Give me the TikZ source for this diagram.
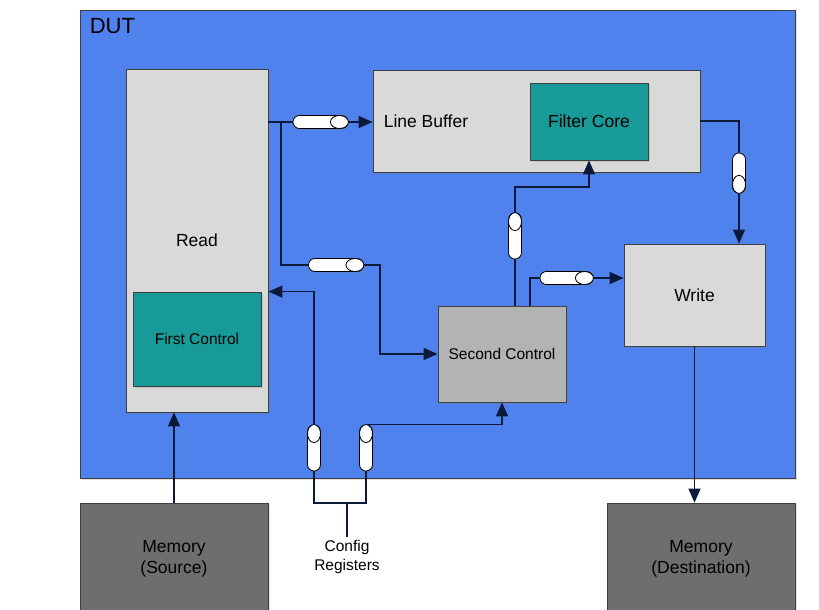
\documentclass[tikz,border=0pt]{standalone}
\usepackage{fontspec}
\setmainfont{Liberation Sans}
\usepackage{tikz}
\usetikzlibrary{positioning,arrows.meta,shadows}
\definecolor{cDut}{HTML}{5082EE}
\definecolor{cBox}{HTML}{D9D9D9}
\definecolor{cCore}{HTML}{179A98}
\definecolor{cCtrl}{HTML}{B3B3B3}
\definecolor{cMem}{HTML}{6E6E6E}
\definecolor{cLine}{HTML}{0B1A3A}

\begin{document}
\begin{tikzpicture}[x=1pt,y=-1pt]
  \tikzset{
    >={Triangle[length=14pt,width=12pt]},
    shd/.style={drop shadow={opacity=0.25,shadow xshift=1.5pt,shadow yshift=-1.5pt}},
    blk/.style={draw=black!75, line width=0.8pt, shd, inner sep=0pt, align=center,
      font=\fontsize{17.5}{21}\selectfont},
    box/.style={blk, fill=cBox},
    core/.style={blk, fill=cCore},
    ctrl/.style={blk, fill=cCtrl, font=\fontsize{15.5}{18}\selectfont},
    mem/.style={blk, fill=cMem},
    flow/.style={draw=cLine, line width=1.2pt},
    pipe/.style={draw=black, line width=0.8pt, fill=white, shd, rounded corners=6.4pt,
      inner sep=0pt, minimum width=55pt, minimum height=13pt},
    vpipe/.style={pipe, minimum width=13pt, minimum height=46pt},
    pipeend/.style={draw=black, line width=0.8pt, fill=white},
    lbl/.style={align=center, font=\fontsize{15.5}{19}\selectfont},
  }
  \useasboundingbox (0,0) rectangle (819,610);

  % enclosing DUT
  \node[blk, fill=cDut, minimum width=715pt, minimum height=468pt] (dut) at (437.5,244) {};
  \node[anchor=north west, inner sep=0pt, font=\fontsize{22}{24}\selectfont]
    (dutlbl) at ([xshift=10pt,yshift=-9pt]dut.north west) {DUT};

  % blocks inside the DUT
  \node[box, minimum width=142pt, minimum height=343pt] (read) at (197,240.5) {Read};
  \node[core, font=\fontsize{15.5}{18}\selectfont, minimum width=128pt, minimum height=94pt]
    (first) at (197,339) {First Control};
  \node[box, minimum width=327pt, minimum height=102pt] (linebuf) at (536.5,121) {};
  \node[anchor=west, inner sep=0pt, font=\fontsize{17.5}{21}\selectfont]
    (buflbl) at ([xshift=11pt]linebuf.west) {Line Buffer};
  \node[core, minimum width=118pt, minimum height=77pt] (filter) at (589,121.5) {Filter Core};
  \node[box, minimum width=141pt, minimum height=102pt] (write) at (694.5,295) {Write};
  \node[ctrl, minimum width=128pt, minimum height=96pt] (second) at (502,354) {Second Control};

  % memories
  \node[mem, minimum width=188pt, minimum height=112pt] (memsrc) at (174,559) {Memory\\(Source)};
  \node[mem, minimum width=188pt, minimum height=112pt] (memdst) at (701,559) {Memory\\(Destination)};
  \node[lbl] (cfg) at (347,557) {Config\\Registers};

  % pipes, with the open end drawn as an ellipse
  \node[pipe] (p1) at (320.5,122) {};
  \node[pipe] (p2) at (336,265) {};
  \node[vpipe] (p3) at (314,448) {};
  \node[vpipe] (p4) at (366,448) {};
  \node[vpipe] (p5) at (515,236) {};
  \node[pipe, minimum width=53pt] (p6) at (566.5,278) {};
  \node[vpipe, minimum height=40pt] (p7) at (739,173) {};
  \foreach \p in {p1,p2,p6}
    \draw[pipeend] ([xshift=-9pt]\p.east) ellipse [x radius=9pt, y radius=6.5pt];
  \foreach \p in {p3,p4,p5}
    \draw[pipeend] ([yshift=-9pt]\p.north) ellipse [x radius=6.5pt, y radius=9pt];
  \draw[pipeend] ([yshift=9pt]p7.south) ellipse [x radius=6.5pt, y radius=9pt];

  \coordinate (br1) at (281,122);
  \coordinate (turn2) at (380,265);
  \coordinate (turn5) at (515,187);
  \coordinate (cfgjoin) at (347,503);

  % read -> line buffer, read -> second control
  \draw[flow] (read.east |- p1.west) -- (p1.west);
  \draw[flow,->] (p1.east) -- (linebuf.west |- p1.east);
  \draw[flow] (br1) |- (p2.west);
  \draw[flow,->] (p2.east) -- (turn2) |- (second.west);

  % config registers
  \draw[flow] (p3.south) |- (cfgjoin) -| (p4.south);
  \draw[flow] (cfgjoin) -- (cfg.north);
  \draw[flow,->] (p3.north) |- (read.east |- first.north);
  \draw[flow,->] (p4.north) -| (second.south);

  % second control -> filter core, write
  \draw[flow] (second.north -| p5.south) -- (p5.south);
  \draw[flow,->] (p5.north) -- (turn5) -| (filter.south);
  \draw[flow] ([xshift=28pt]second.north) |- (p6.west);
  \draw[flow,->] (p6.east) -- (write.west |- p6.east);

  % line buffer -> write -> memory
  \draw[flow] (linebuf.east) -| (p7.north);
  \draw[flow,->] (p7.south) -- (write.north -| p7.south);
  \draw[flow,->] (write.south) -- (write.south |- memdst.north);
  \draw[flow,->] (memsrc.north) -- (memsrc.north |- read.south);
\end{tikzpicture}
\end{document}
